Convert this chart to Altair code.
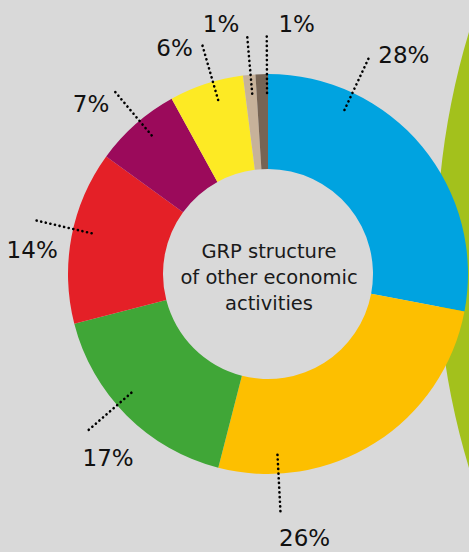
import altair as alt
import numpy as np
import pandas as pd

# ---- data ----
segments = ["Segment 1", "Segment 2", "Segment 3", "Segment 4",
            "Segment 5", "Segment 6", "Segment 7", "Segment 8"]
shares = [28, 26, 17, 14, 7, 6, 1, 1]
labels = ["28%", "26%", "17%", "14%", "7%", "6%", "1%", "1%"]
colors = ["#00a3e0", "#fdbf00", "#40a637", "#e42027",
          "#9b0a5b", "#fdea24", "#c7b29a", "#766454"]
center_lines = ["GRP structure", "of other economic", "activities"]

# ---- layout (not data) ----
leader_shift = [-25.4, 29.4, 4.0, 2.2, 1.4, 2.0, 0.4, 1.5]   # deg from slice middle
label_dx = [34, 24, 22, -1, -22, -27, -26, 30]               # px from leader end
label_dy = [7, 31.5, 33.5, 38.5, 22.5, 13.5, -1.5, -1.5]      # px (down) to baseline
R_IN, R_OUT = 105, 200
LEAD_IN, LEAD_OUT = 181, 241
W, H = 469, 552
FONT = "DejaVu Sans"

xscale = alt.Scale(domain=[-268, 201], nice=False, zero=False)
yscale = alt.Scale(domain=[-278, 274], nice=False, zero=False)

def X(**kw):
    return alt.X(scale=xscale, axis=None, **kw)

def Y(**kw):
    return alt.Y(scale=yscale, axis=None, **kw)

# donut table
vals = np.array(shares, dtype=float)
start = np.cumsum(vals) - vals
mid = (start + vals / 2) / vals.sum() * 360.0
ang = np.radians(mid + np.array(leader_shift))
donut_df = pd.DataFrame({"segment": segments, "share": shares,
                         "order": list(range(len(shares)))})

lead_df = pd.DataFrame({
    "label": labels,
    "x1": LEAD_IN * np.sin(ang), "y1": LEAD_IN * np.cos(ang),
    "x2": LEAD_OUT * np.sin(ang), "y2": LEAD_OUT * np.cos(ang),
})
lead_df["lx"] = lead_df["x2"] + np.array(label_dx)
lead_df["ly"] = lead_df["y2"] - np.array(label_dy)

one = pd.DataFrame({"k": [0]})

olive = alt.Chart(one).mark_arc(
    color="#a3c11c", radius=752, theta=0, theta2=2 * np.pi, clip=True
).encode(x=X(datum=921, type="quantitative"), y=Y(datum=24, type="quantitative"))

donut = alt.Chart(donut_df).mark_arc(innerRadius=R_IN, outerRadius=R_OUT).encode(
    theta=alt.Theta("share:Q", stack=True),
    order=alt.Order("order:Q"),
    color=alt.Color("segment:N", scale=alt.Scale(domain=segments, range=colors), legend=None),
    x=X(datum=0, type="quantitative"),
    y=Y(datum=0, type="quantitative"),
)

leaders = alt.Chart(lead_df).mark_rule(
    color="#000000", strokeWidth=2.6, strokeDash=[0.1, 4.6], strokeCap="round"
).encode(x=X(field="x1", type="quantitative"), y=Y(field="y1", type="quantitative"),
         x2="x2:Q", y2="y2:Q")

texts = alt.Chart(lead_df).mark_text(
    font=FONT, fontSize=23, align="center", baseline="alphabetic", color="#111111"
).encode(x=X(field="lx", type="quantitative"), y=Y(field="ly", type="quantitative"),
         text="label:N")

center = alt.Chart(one).mark_text(
    text=center_lines, font=FONT, fontSize=19.5, lineHeight=26,
    align="center", baseline="middle", color="#1a1a1a"
).encode(x=X(datum=1, type="quantitative"), y=Y(datum=22, type="quantitative"))

chart = alt.layer(olive, donut, leaders, texts, center).properties(
    width=W, height=H, padding=0,
    autosize=alt.AutoSizeParams(type="none"),
    background="#d9d9d9",
).configure_view(stroke=None)

chart.save("out.html", embed_options={"renderer": "svg", "actions": False})
